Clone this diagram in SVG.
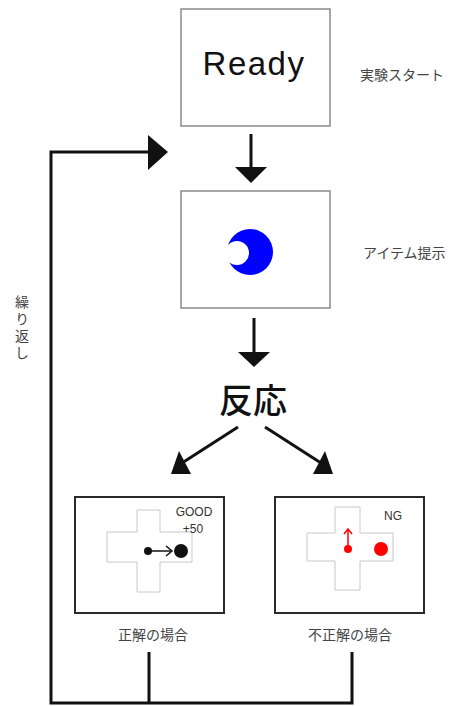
<svg xmlns="http://www.w3.org/2000/svg" width="462" height="706" viewBox="0 0 462 706">
<style>
.box{fill:#fff;stroke:#8a8a8a;stroke-width:1.5}
.rbox{fill:#fff;stroke:#2a2a2a;stroke-width:2}
.cross{fill:#fff;stroke:#c8c8c8;stroke-width:1}
.lbl{font-family:"Liberation Sans","Noto Sans CJK JP",sans-serif;fill:#444;font-size:14px}
.small{font-family:"Liberation Sans","Noto Sans CJK JP",sans-serif;fill:#333;font-size:12px}
.line{fill:none;stroke:#111;stroke-width:3}
.head{fill:#111}
</style>
<g id="connectors">
<line class="line" x1="251" y1="134" x2="251" y2="170"/>
<path class="head" d="M235,167 L267,167 L251,183 Z"/>
<line class="line" x1="254" y1="318" x2="254" y2="355"/>
<path class="head" d="M238,352 L270,352 L254,367 Z"/>
<line class="line" x1="238" y1="427" x2="182" y2="463"/>
<path class="head" d="M171,474 L191,474 L179,451 Z"/>
<line class="line" x1="265" y1="427" x2="321" y2="463"/>
<path class="head" d="M313,474 L333,474 L325,451 Z"/>
<polyline class="line" points="149,652 149,703"/>
<polyline class="line" points="352,652 352,703 51,703 51,152 150,152"/>
<path class="head" d="M148,135 L168,152 L148,170 Z"/>
</g>
<g id="ready">
<rect class="box" x="181" y="9" width="149" height="117"/>
<text x="254" y="75" text-anchor="middle" font-family="Liberation Sans, Arial, sans-serif" font-size="33" letter-spacing="1.5" fill="#111">Ready</text>
<text class="lbl" x="360" y="80">実験スタート</text>
</g>
<g id="item">
<rect class="box" x="181" y="191" width="149" height="117"/>
<circle cx="250" cy="252" r="23" fill="#0000ff"/>
<circle cx="237" cy="253" r="12" fill="#fff"/>
<text class="lbl" x="363" y="258" font-size="15">アイテム提示</text>
</g>
<g id="hannou">
<text x="253" y="413" text-anchor="middle" font-family="Noto Sans CJK JP, sans-serif" font-size="34" font-weight="500" fill="#111">反応</text>
</g>
<g id="correct">
<rect class="rbox" x="75" y="497" width="149" height="116"/>
<path class="cross" d="M137,510 H160 V532 H192 V562 H160 V592 H137 V562 H107 V532 H137 Z"/>
<text class="small" x="194" y="516" text-anchor="middle">GOOD</text>
<text class="small" x="193" y="533" text-anchor="middle">+50</text>
<circle cx="148" cy="551" r="4" fill="#111"/>
<line x1="150" y1="551" x2="171" y2="551" stroke="#111" stroke-width="1.5"/>
<polyline points="166,546 172,551 166,556" fill="none" stroke="#111" stroke-width="1.5"/>
<circle cx="181" cy="551" r="7" fill="#111"/>
<text class="lbl" x="153" y="640" text-anchor="middle" font-size="16">正解の場合</text>
</g>
<g id="incorrect">
<rect class="rbox" x="275" y="497" width="149" height="116"/>
<path class="cross" d="M335,507 H360 V533 H393 V561 H360 V590 H335 V561 H307 V533 H335 Z"/>
<text class="small" x="393" y="520" text-anchor="middle">NG</text>
<circle cx="348" cy="549" r="4" fill="#f00"/>
<line x1="348" y1="547" x2="348" y2="530" stroke="#f00" stroke-width="1.5"/>
<polyline points="344,534 348,529 352,534" fill="none" stroke="#f00" stroke-width="1.5"/>
<circle cx="381" cy="549" r="7" fill="#f00"/>
<text class="lbl" x="350" y="640" text-anchor="middle" font-size="16">不正解の場合</text>
</g>
<g id="repeat">
<text class="lbl" x="21" y="295" font-size="13" writing-mode="vertical-rl" letter-spacing="3">繰り返し</text>
</g>
</svg>
